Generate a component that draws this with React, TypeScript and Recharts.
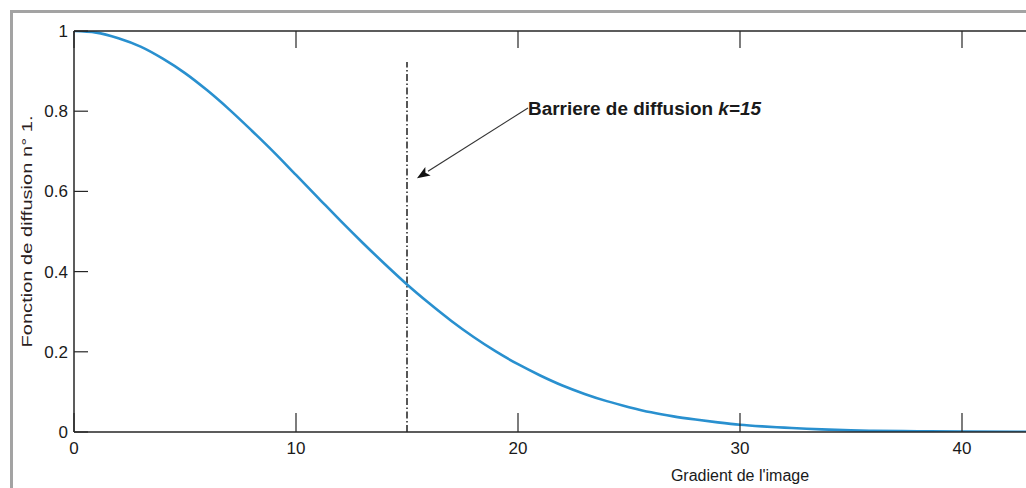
import { LineChart, Line, XAxis, YAxis, ReferenceLine } from "recharts";

// gradient values (x) and diffusion function values (y)
const gradient = [0, 1, 2, 3, 4, 5, 6, 7, 8, 9, 10, 11, 12, 13, 14, 15, 16, 17, 18, 19, 20, 21, 22, 23, 24, 25, 26, 27, 28, 29, 30, 31, 32, 33, 34, 35, 36, 38, 40, 43, 50, 60];
const diffusion = [1, 0.996, 0.982, 0.961, 0.931, 0.895, 0.852, 0.804, 0.752, 0.698, 0.641, 0.584, 0.527, 0.472, 0.419, 0.368, 0.321, 0.277, 0.237, 0.201, 0.169, 0.141, 0.116, 0.095, 0.077, 0.062, 0.049, 0.039, 0.031, 0.024, 0.018, 0.014, 0.011, 0.008, 0.006, 0.004, 0.003, 0.002, 0.001, 0.0003, 0, 0];

const xTicks = [0, 10, 20, 30, 40];
const yTicks = [0, 0.2, 0.4, 0.6, 0.8, 1];

// barrier line and annotation arrow (data coordinates)
const barrierX = 15;
const barrierTop = 0.923;
const arrowFrom = { x: 20.45, y: 0.808 };
const arrowTo = { x: 15.45, y: 0.633 };
const annotation = "Barriere de diffusion ";
const annotationK = "k=15";

const data = gradient.map((g, i) => ({ g, f: diffusion[i] }));

const FONT = "'Liberation Sans', Arial, sans-serif";
const AXIS = "#262626";

const BottomTick = ({ x, y, payload }: any) => (
  <g>
    <line x1={x} y1={y} x2={x} y2={y - 19} stroke={AXIS} strokeWidth={1.2} />
    <text x={x} y={y + 22} textAnchor="middle" fontSize={17} fontFamily={FONT} fill="#1a1a1a">
      {payload.value}
    </text>
  </g>
);

const TopTick = ({ x, y }: any) => (
  <line x1={x} y1={y} x2={x} y2={y + 17} stroke={AXIS} strokeWidth={1.2} />
);

const LeftTick = ({ x, y, payload }: any) => (
  <g>
    <line x1={x} y1={y} x2={x + 14} y2={y} stroke={AXIS} strokeWidth={1.2} />
    <text x={x - 6} y={y} dy="0.35em" textAnchor="end" fontSize={17} fontFamily={FONT} fill="#1a1a1a">
      {payload.value}
    </text>
  </g>
);

const YLabel = ({ viewBox }: any) => {
  const cx = viewBox.x + viewBox.width - 47;
  const cy = viewBox.y + viewBox.height / 2;
  return (
    <text
      x={cx}
      y={cy}
      transform={`rotate(-90 ${cx} ${cy})`}
      textAnchor="middle"
      dy="0.35em"
      fontSize={15}
      textLength={232}
      lengthAdjust="spacingAndGlyphs"
      fontFamily={FONT}
      fill="#2a2020"
    >
      Fonction de diffusion n° 1.
    </text>
  );
};

const Arrow = ({ x1, y1, x2, y2 }: any) => {
  const ang = Math.atan2(y2 - y1, x2 - x1);
  const len = 13;
  const w = 5;
  const bx = x2 - len * Math.cos(ang);
  const by = y2 - len * Math.sin(ang);
  const px = -Math.sin(ang) * w;
  const py = Math.cos(ang) * w;
  return (
    <g>
      <line x1={x1} y1={y1} x2={bx} y2={by} stroke="#333" strokeWidth={1.2} />
      <polygon points={`${x2},${y2} ${bx + px},${by + py} ${bx + 3 * Math.cos(ang)},${by + 3 * Math.sin(ang)} ${bx - px},${by - py}`} fill="#111" />
      <text x={x1} y={y1 + 7} fontSize={18} fontFamily={FONT} fontWeight="bold" fill="#1a1a1a" textLength={233} lengthAdjust="spacingAndGlyphs">
        {annotation}
        <tspan fontStyle="italic">{annotationK}</tspan>
      </text>
    </g>
  );
};

export default function App() {
  return (
    <div style={{ position: "fixed", left: 0, top: 0, width: 1026, height: 488, overflow: "hidden", background: "#fff" }}>
      <div
        style={{
          position: "absolute",
          left: 10,
          top: 10,
          width: 1200,
          height: 700,
          borderLeft: "3px solid #a3a3a3",
          borderTop: "3px solid #a3a3a3",
        }}
      />
      <div style={{ position: "absolute", left: 8, top: 8 }}>
        <LineChart width={1418} height={480} data={data} margin={{ top: 22, right: 20, bottom: 26, left: 6 }}>
          <XAxis
            dataKey="g"
            type="number"
            domain={[0, 60]}
            ticks={xTicks}
            allowDataOverflow
            height={30}
            tickSize={0}
            tickMargin={0}
            tickLine={false}
            tick={<BottomTick />}
            axisLine={{ stroke: AXIS, strokeWidth: 1.5 }}
            label={{ value: "Gradient de l'image", position: "insideTop", offset: 38, fontSize: 16, fill: "#1a1a1a", fontFamily: FONT }}
          />
          <XAxis
            xAxisId="top"
            dataKey="g"
            orientation="top"
            type="number"
            domain={[0, 60]}
            ticks={xTicks}
            allowDataOverflow
            height={1}
            tickSize={0}
            tickMargin={0}
            tickLine={false}
            tick={<TopTick />}
            axisLine={{ stroke: AXIS, strokeWidth: 1.5 }}
          />
          <YAxis
            type="number"
            domain={[0, 1]}
            ticks={yTicks}
            allowDataOverflow
            width={60}
            tickSize={0}
            tickMargin={0}
            tickLine={false}
            tick={<LeftTick />}
            axisLine={{ stroke: AXIS, strokeWidth: 1.5 }}
            label={<YLabel />}
          />
          <ReferenceLine
            segment={[{ x: barrierX, y: 0 }, { x: barrierX, y: barrierTop }]}
            stroke="#111"
            strokeWidth={1.4}
            strokeDasharray="7 2.5 1.5 2.5"
            ifOverflow="visible"
          />
          <ReferenceLine
            segment={[arrowFrom, arrowTo]}
            ifOverflow="visible"
            shape={(p: any) => <Arrow {...p} />}
          />
          <Line
            type="monotone"
            dataKey="f"
            stroke="#2990cf"
            strokeWidth={2.6}
            dot={false}
            isAnimationActive={false}
          />
        </LineChart>
      </div>
    </div>
  );
}
